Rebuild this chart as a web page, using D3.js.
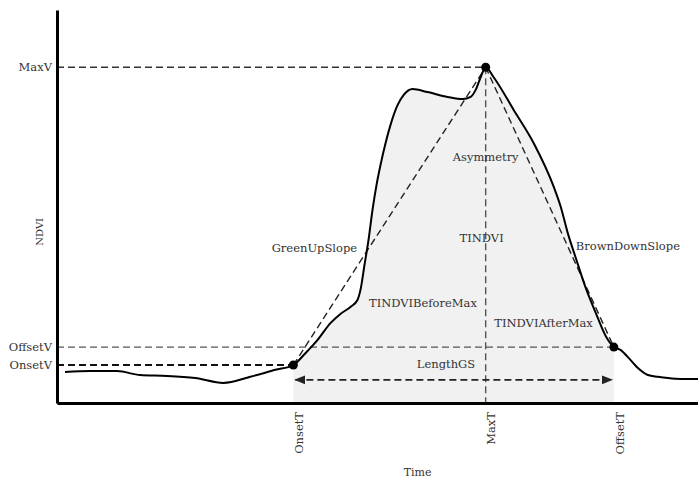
<!DOCTYPE html>
<html>
<head>
<meta charset="utf-8">
<script src="https://cdn.jsdelivr.net/npm/d3@7"></script>
<style>
  body { margin: 0; background: #fff; }
  text { font-family: "DejaVu Serif", serif; fill: #333; }
</style>
</head>
<body>
<script>
// NDVI time series (time in days, NDVI).
var days = [4, 16.5, 30, 41.5, 55, 69, 83, 96.5, 109, 118, 124, 130, 136.5, 141.5, 146.5, 150,
            151.5, 153.5, 155.5, 157.5, 159.5, 161.5, 164, 166.5, 170, 173, 177.5, 185, 195, 202.5,
            206.5, 209, 211.5, 214, 218, 228, 238, 248, 251.5, 255, 259, 264, 269, 274, 278,
            281.5, 285, 290, 295, 300, 305, 311.5, 320.5];
var ndvi = [0.171, 0.173, 0.173, 0.164, 0.162, 0.157, 0.146, 0.160, 0.176, 0.187, 0.214, 0.244, 0.283, 0.304, 0.320, 0.336,
            0.359, 0.416, 0.473, 0.542, 0.599, 0.645, 0.695, 0.737, 0.782, 0.805, 0.819, 0.812, 0.801, 0.796,
            0.801, 0.817, 0.846, 0.869, 0.846, 0.771, 0.695, 0.595, 0.549, 0.489, 0.432, 0.363, 0.306, 0.253, 0.228,
            0.221, 0.205, 0.180, 0.164, 0.160, 0.157, 0.155, 0.155];

// Phenology key points.
var onsetT = 118, onsetV = 0.187;
var maxT = 214, maxV = 0.869;
var offsetT = 278, offsetV = 0.228;
var lengthGSV = 0.153;

var xTickValues = [onsetT, maxT, offsetT];
var xTickLabels = ["OnsetT", "MaxT", "OffsetT"];
var yTickValues = [onsetV, offsetV, maxV];
var yTickLabels = ["OnsetV", "OffsetV", "MaxV"];

// Annotation labels: text, time, ndvi
var labelNames = ["Asymmetry", "TINDVI", "GreenUpSlope", "TINDVIBeforeMax", "TINDVIAfterMax", "LengthGS", "BrownDownSlope"];
var labelT = [214, 212, 128.5, 182.7, 242.9, 194.2, 285];
var labelV = [0.654, 0.469, 0.446, 0.32, 0.274, 0.18, 0.45];

var series = days.map(function (d, i) { return { t: d, v: ndvi[i] }; });

var plotWidth = 698;
var plotHeight = 479;
var margin = { top: 10, right: 0, bottom: 76, left: 57 };

var xScale = d3.scaleLinear()
               .domain([0, 320])
               .range([margin.left, plotWidth - margin.right]);
var yScale = d3.scaleLinear()
               .domain([0.1, 1.0])
               .range([plotHeight - margin.bottom, margin.top]);

var svg = d3.select("body").append("svg")
            .attr("width", plotWidth)
            .attr("height", plotHeight);

// Grey fill under the growing season.
var season = series.filter(function (d) { return d.t >= onsetT && d.t <= offsetT; });
var area = d3.area()
             .x(function (d) { return xScale(d.t); })
             .y0(yScale(0.1))
             .y1(function (d) { return yScale(d.v); })
             .curve(d3.curveMonotoneX);
svg.append("path")
   .attr("d", area(season))
   .attr("fill", "#f1f1f1");

// Dashed guide lines.
function dashed(x1, y1, x2, y2, color, width) {
    svg.append("line")
       .attr("x1", xScale(x1)).attr("y1", yScale(y1))
       .attr("x2", xScale(x2)).attr("y2", yScale(y2))
       .attr("stroke", color)
       .attr("stroke-width", width)
       .attr("stroke-dasharray", "7,4");
}
dashed(0, maxV, maxT, maxV, "#333", 1.4);
dashed(0, offsetV, offsetT, offsetV, "#555", 1.3);
dashed(0, onsetV, onsetT, onsetV, "#111", 1.8);
dashed(maxT, maxV, maxT, 0.1, "#555", 1.4);
dashed(onsetT, onsetV, maxT, maxV, "#222", 1.4);
dashed(maxT, maxV, offsetT, offsetV, "#222", 1.4);

// LengthGS double arrow.
var defs = svg.append("defs");
defs.append("marker")
    .attr("id", "arrow")
    .attr("viewBox", "0 0 10 10")
    .attr("refX", 9).attr("refY", 5)
    .attr("markerWidth", 7).attr("markerHeight", 7)
    .attr("orient", "auto-start-reverse")
    .append("path")
    .attr("d", "M0,1L10,5L0,9Z")
    .attr("fill", "#222");
svg.append("line")
   .attr("x1", xScale(onsetT + 1)).attr("y1", yScale(lengthGSV))
   .attr("x2", xScale(offsetT - 1)).attr("y2", yScale(lengthGSV))
   .attr("stroke", "#222")
   .attr("stroke-width", 1.6)
   .attr("stroke-dasharray", "7,4")
   .attr("marker-start", "url(#arrow)")
   .attr("marker-end", "url(#arrow)");

// NDVI curve.
var line = d3.line()
             .x(function (d) { return xScale(d.t); })
             .y(function (d) { return yScale(d.v); })
             .curve(d3.curveMonotoneX);
svg.append("path")
   .attr("d", line(series))
   .attr("fill", "none")
   .attr("stroke", "#000")
   .attr("stroke-width", 2);

// Key points.
svg.selectAll(".dot")
   .data([[onsetT, onsetV], [maxT, maxV], [offsetT, offsetV]])
   .enter().append("circle")
   .attr("class", "dot")
   .attr("cx", function (d) { return xScale(d[0]); })
   .attr("cy", function (d) { return yScale(d[1]); })
   .attr("r", 4.5)
   .attr("fill", "#000");

// Annotation labels.
svg.selectAll(".label")
   .data(labelNames)
   .enter().append("text")
   .attr("class", "label")
   .attr("x", function (d, i) { return xScale(labelT[i]); })
   .attr("y", function (d, i) { return yScale(labelV[i]); })
   .attr("text-anchor", "middle")
   .style("font-size", "11.5px")
   .text(function (d) { return d; });

// Axes.
var xAxis = svg.append("g")
   .attr("transform", "translate(0," + yScale(0.1) + ")")
   .call(d3.axisBottom(xScale)
           .tickValues(xTickValues)
           .tickFormat(function (d, i) { return xTickLabels[i]; })
           .tickSize(0)
           .tickSizeOuter(0));
xAxis.select(".domain").attr("stroke", "#000").attr("stroke-width", 3);
xAxis.selectAll("text")
     .attr("transform", "rotate(-90)")
     .attr("text-anchor", "end")
     .attr("x", -9)
     .attr("y", 0)
     .attr("dy", "0.8em")
     .style("font-size", "11.5px")
     .attr("fill", "#333")
     .attr("font-family", "DejaVu Serif");

var yAxis = svg.append("g")
   .attr("transform", "translate(" + xScale(0) + ",0)")
   .call(d3.axisLeft(yScale)
           .tickValues(yTickValues)
           .tickFormat(function (d, i) { return yTickLabels[i]; })
           .tickSize(0)
           .tickPadding(5)
           .tickSizeOuter(0));
yAxis.select(".domain").attr("stroke", "#000").attr("stroke-width", 3);
yAxis.selectAll("text")
     .style("font-size", "11.5px")
     .attr("fill", "#333")
     .attr("font-family", "DejaVu Serif");

// Axis titles.
svg.append("text")
   .attr("transform", "translate(" + (xScale(0) - 14) + "," + yScale(0.492) + ") rotate(-90)")
   .attr("text-anchor", "middle")
   .style("font-size", "10px")
   .text("NDVI");

svg.append("text")
   .attr("x", xScale(180))
   .attr("y", 476)
   .attr("text-anchor", "middle")
   .style("font-size", "11px")
   .text("Time");
</script>
</body>
</html>
